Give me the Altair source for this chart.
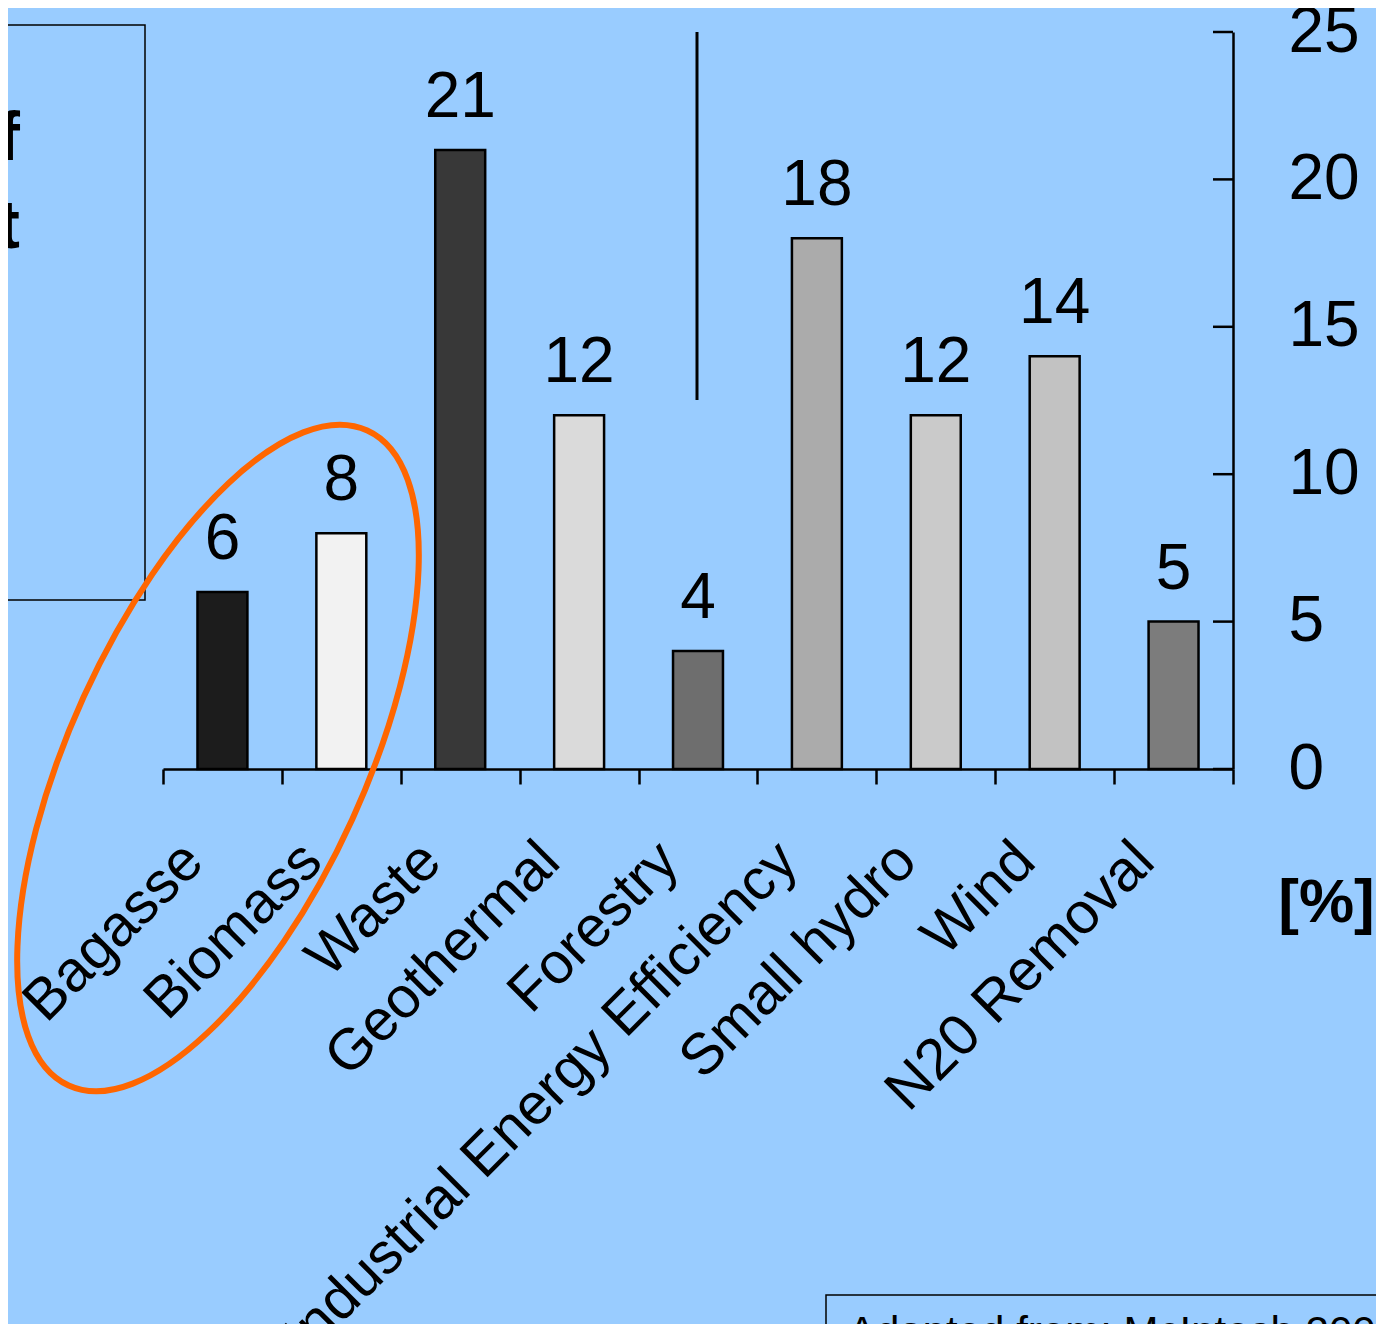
import altair as alt
import pandas as pd

FONT = "Liberation Sans"

# ---- data ----
categories = ["Bagasse", "Biomass", "Waste", "Geothermal", "Forestry",
              "Industrial Energy Efficiency", "Small hydro", "Wind", "N20 Removal"]
shares = [6, 8, 21, 12, 4, 18, 12, 14, 5]
# grey tones approximating the hatch / dot patterns of each bar
fills = ["#1c1c1c", "#f2f2f2", "#383838", "#dadada", "#6e6e6e",
         "#ababab", "#cacaca", "#c2c2c2", "#7c7c7c"]
y_ticks = [0, 5, 10, 15, 20, 25]
left_box_lines = ["f", "t"]
credit_text = "Adapted from: McIntosh 200"
unit_label = "[%]"

W, H = 1070, 737

df = pd.DataFrame({"category": categories, "share": shares, "fill": fills})
tick_df = pd.DataFrame({"share": y_ticks})
one = pd.DataFrame({"k": [0]})

x_enc = alt.X(
    "category:N", sort=categories,
    scale=alt.Scale(paddingInner=0, paddingOuter=0),
    axis=alt.Axis(
        title=None, labelAngle=-45, labelAlign="right", labelBaseline="alphabetic",
        labelFontSize=58, labelFont=FONT, labelColor="black",
        labelPadding=80, labelOffset=-17, labelLimit=0, labelOverlap=False,
        tickBand="extent", tickSize=15, tickColor="black", tickWidth=2.5,
        domainColor="black", domainWidth=2.5, grid=False,
    ),
)

y_enc = alt.Y(
    "share:Q",
    scale=alt.Scale(domain=[0, 25], nice=False, zero=True),
    axis=alt.Axis(
        orient="right", values=y_ticks, ticks=False, tickSize=0,
        labelPadding=55, labelFontSize=64, labelFont=FONT, labelColor="black",
        labelBaseline="middle", labelAlign="left",
        domainColor="black", domainWidth=2.5, grid=False,
        title=unit_label, titleAngle=0, titleX=93, titleY=870,
        titleAlign="center", titleBaseline="middle", titleFontSize=62,
        titleFont=FONT, titleFontWeight="bold", titleColor="black",
    ),
)

bars = alt.Chart(df).mark_bar(
    stroke="black", strokeWidth=2.5, width=alt.RelativeBandSize(0.42)
).encode(x=x_enc, y=y_enc, fill=alt.Fill("fill:N", scale=None))

values = alt.Chart(df).mark_text(
    fontSize=64, font=FONT, baseline="alphabetic", dy=-33, color="black"
).encode(x=x_enc, y=y_enc, text="share:Q")

inner_ticks = alt.Chart(tick_df).mark_rule(color="black", strokeWidth=2.5).encode(
    y=y_enc, x=alt.value(W - 20), x2=alt.value(W)
)

stray_line = alt.Chart(one).mark_rule(color="black", strokeWidth=3).encode(
    x=alt.value(534), y=alt.value(0), y2=alt.value(368)
)

left_box = alt.Chart(one).mark_rect(
    fill="white", fillOpacity=0, stroke="black", strokeWidth=1.5
).encode(x=alt.value(-200), x2=alt.value(-18), y=alt.value(-7), y2=alt.value(568))

left_t1 = alt.Chart(one).mark_text(
    text=left_box_lines[0], font=FONT, fontSize=68, fontWeight="bold",
    align="right", baseline="alphabetic", color="black"
).encode(x=alt.value(-143), y=alt.value(128))

left_t2 = alt.Chart(one).mark_text(
    text=left_box_lines[1], font=FONT, fontSize=68, fontWeight="bold",
    align="right", baseline="alphabetic", color="black"
).encode(x=alt.value(-143), y=alt.value(216))

credit_box = alt.Chart(one).mark_rect(
    fill="white", fillOpacity=0, stroke="black", strokeWidth=1.5
).encode(x=alt.value(663), x2=alt.value(1300), y=alt.value(1263), y2=alt.value(1400))

credit = alt.Chart(one).mark_text(
    text=credit_text, font=FONT, fontSize=42, align="left",
    baseline="alphabetic", color="black"
).encode(x=alt.value(685), y=alt.value(1314))

# orange ellipse drawn as a custom symbol (unit path, vertical major axis)
r, k = 0.41, 0.5523
kr = k * r
ellipse_path = (
    f"M 0 -1 C {kr:.4f} -1 {r} {-k} {r} 0 "
    f"C {r} {k} {kr:.4f} 1 0 1 "
    f"C {-kr:.4f} 1 {-r} {k} {-r} 0 "
    f"C {-r} {-k} {-kr:.4f} -1 0 -1 Z"
)
ellipse = alt.Chart(one).mark_point(
    shape=ellipse_path, size=720 * 720, angle=24.5, filled=False,
    stroke="#FF6600", color="#FF6600", strokeWidth=6, opacity=1
).encode(x=alt.value(55), y=alt.value(726))

chart = alt.layer(
    left_box, left_t1, left_t2, stray_line, bars, values, inner_ticks,
    credit_box, credit, ellipse
).properties(
    width=W, height=H,
    autosize=alt.AutoSizeParams(type="none"),
    padding={"left": 155, "top": 24, "right": 143, "bottom": 555},
).configure(background="#99CCFF").configure_view(strokeWidth=0)

chart.save("out.html", embed_options={"renderer": "svg", "actions": False})
